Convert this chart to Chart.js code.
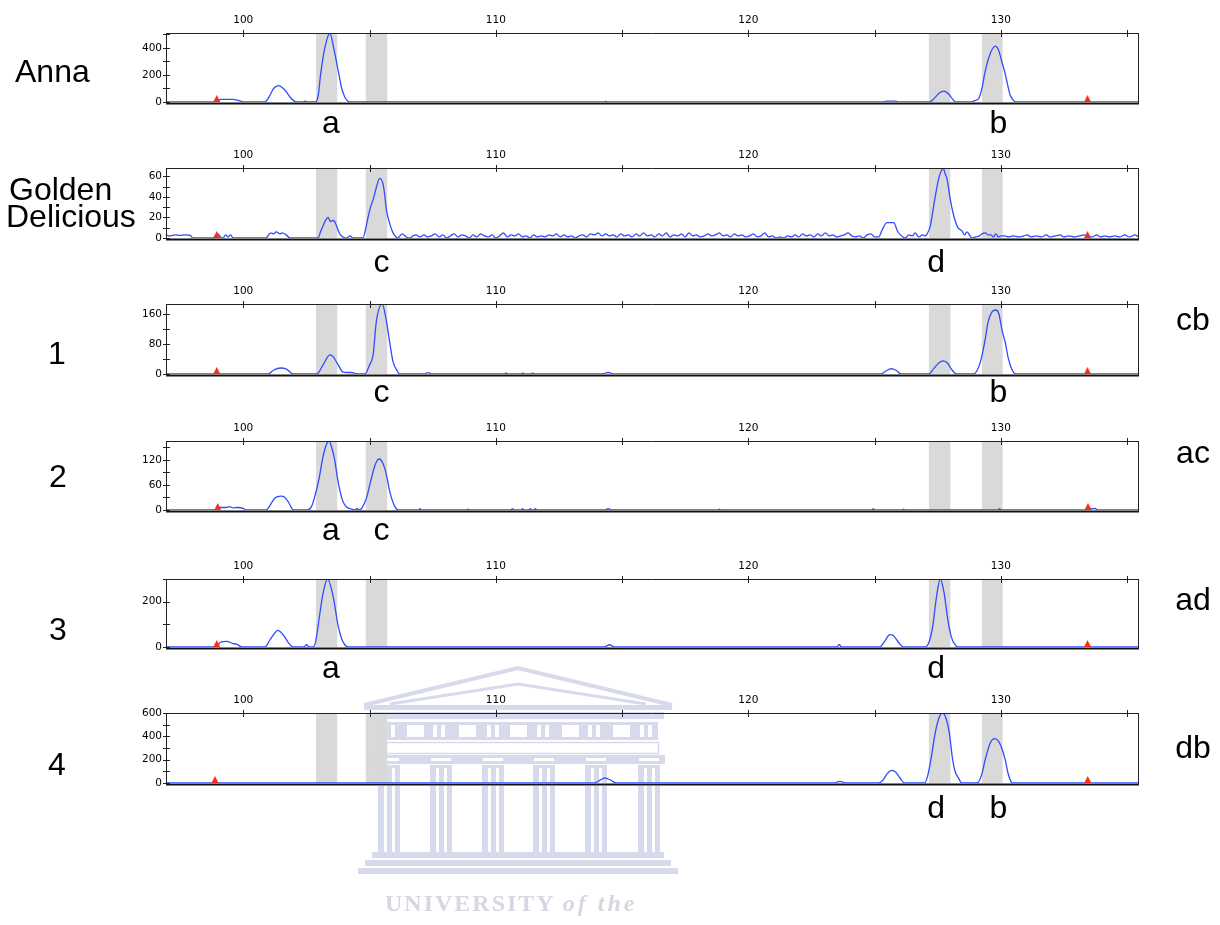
<!DOCTYPE html>
<html>
<head>
<meta charset="utf-8">
<title>Fragment analysis traces</title>
<script src="https://cdn.jsdelivr.net/npm/chart.js@4.4.1/dist/chart.umd.min.js"></script>
<style>
  html, body { margin: 0; padding: 0; background: #fff; }
  body { width: 1220px; height: 925px; position: relative; overflow: hidden; }
  canvas.panel { position: absolute; left: 0; }
  #crest { position: absolute; left: 0; top: 0; mix-blend-mode: darken; pointer-events: none; z-index: 5; }
  #motto { position: absolute; left: 385px; top: 889px; font-family: "Liberation Serif", serif; font-weight: bold;
           font-size: 24px; line-height: 28px; color: #d6d8e1; letter-spacing: 2px; white-space: nowrap;
           mix-blend-mode: darken; z-index: 6; }
  #motto i { letter-spacing: 3px; }
</style>
</head>
<body>
<canvas id="crest" width="1220" height="925"></canvas>
<div id="motto">UNIVERSITY <i>of the</i></div>
<script>
// ---- fragment size axis (bp) ----
const sizeMin = 96.94;
const sizeMax = 135.47;
const sizeTicks = [100, 105, 110, 115, 120, 125, 130, 135];
const sizeLabels = [100, 110, 120, 130];
// allele bins (bp ranges)
const binLow  = [102.88, 104.85, 127.15, 129.25];
const binHigh = [103.72, 105.70, 128.00, 130.07];

// ---- Anna ----
const annaBp = [
  96.94, 98.98,
  99.05, 99.1, 99.6, 99.8, 99.95, 100.05,
  100.8, 100.9, 101.06, 101.2, 101.41, 101.55, 101.71, 101.88, 102.04, 102.12,
  102.35, 102.45, 102.55,
  102.86, 102.97, 103.06, 103.23, 103.43, 103.58, 103.79, 103.9, 104.02, 104.12, 104.22,
  114.3, 114.36, 114.42,
  125.4, 125.45, 125.85, 125.9,
  127.17, 127.35, 127.55, 127.73, 127.9, 128.05, 128.2,
  128.85, 128.95, 129.12, 129.25, 129.36, 129.58, 129.78, 129.91, 130.05, 130.17, 130.27, 130.37, 130.54, 130.62,
  135.47];
const annaRfu = [
  0, 0,
  15, 20, 20, 12, 3, 0,
  0, 5, 50, 100, 121, 105, 74, 30, 5, 0,
  0, 6, 0,
  0, 50, 200, 400, 510, 400, 200, 100, 37, 10, 0,
  0, 5, 0,
  0, 6, 6, 0,
  0, 25, 65, 81, 65, 30, 0,
  0, 10, 25, 100, 210, 358, 413, 383, 290, 210, 125, 50, 5, 0,
  0];
const annaTicks = [0, 100, 200, 300, 400, 500];
const annaLabels = [0, 200, 400];

// ---- Golden Delicious ----
const goldenBp = [
  96.94, 97.1, 97.3, 97.5, 97.7, 97.9, 98.0, 98.8, 98.9, 99.0, 99.1, 99.2, 99.3, 99.4, 99.5, 99.6,
  100.9, 101.0, 101.1, 101.2, 101.3, 101.45, 101.55, 101.7, 101.85,
  102.9, 102.96, 103.06, 103.16, 103.28, 103.36, 103.45, 103.55, 103.62, 103.72, 103.82, 103.95, 104.1, 104.23, 104.35,
  104.74, 104.84, 104.94, 105.04, 105.14, 105.28, 105.4, 105.53, 105.6, 105.67, 105.8, 105.93, 106.02, 106.11,
  106.3, 106.45, 106.59, 106.72, 106.85, 107.0, 107.15, 107.3, 107.45, 107.6, 107.75, 107.9,
  108.05, 108.2, 108.35, 108.5, 108.65, 108.8, 108.95, 109.1, 109.25, 109.4, 109.55, 109.7, 109.85,
  110.0, 110.15, 110.3, 110.45, 110.6, 110.75, 110.9, 111.05, 111.2, 111.35, 111.5, 111.65, 111.8, 111.95,
  112.1, 112.25, 112.4, 112.55, 112.7, 112.85, 113.0, 113.15, 113.3, 113.45, 113.6, 113.75, 113.9,
  114.05, 114.2, 114.35, 114.5, 114.65, 114.8, 114.95, 115.1, 115.25, 115.4, 115.55, 115.7, 115.85,
  116.0, 116.15, 116.3, 116.45, 116.6, 116.75, 116.9, 117.05, 117.2, 117.35, 117.5, 117.65, 117.8, 117.95,
  118.1, 118.25, 118.4, 118.55, 118.7, 118.85, 119.0, 119.15, 119.3, 119.45, 119.6, 119.75, 119.9,
  120.05, 120.2, 120.35, 120.5, 120.65, 120.8, 120.95, 121.1, 121.25, 121.4, 121.55, 121.7, 121.85,
  122.0, 122.15, 122.3, 122.45, 122.6, 122.75, 122.9, 123.05, 123.2, 123.35, 123.5, 123.65, 123.8, 123.95,
  124.1, 124.25, 124.4, 124.55, 124.7, 124.85, 125.0,
  125.16, 125.3, 125.49, 125.6, 125.76, 125.9, 126.02, 126.22,
  126.35, 126.5, 126.6, 126.75, 126.9, 127.0, 127.08,
  127.21, 127.3, 127.4, 127.53, 127.62, 127.71, 127.8, 127.87, 128.0, 128.1, 128.2, 128.3, 128.46, 128.56, 128.66, 128.78, 128.85,
  129.0, 129.15, 129.25, 129.38, 129.5, 129.6, 129.7, 129.8, 129.9, 130.0, 130.15, 130.3, 130.5, 130.7, 130.9,
  131.05, 131.2, 131.4, 131.6, 131.8, 131.95, 132.15, 132.35, 132.5, 132.7, 132.9,
  133.1, 133.3, 133.43, 133.6, 133.8, 133.95, 134.1, 134.3, 134.5, 134.7, 134.9, 135.1, 135.3, 135.47];
const goldenRfu = [
  3, 2, 3, 2.5, 3, 2.5, 0, 0, 2, 4, 1, 0, 3, 1, 3, 0,
  0, 3, 5, 4, 6, 4, 5, 3, 0,
  0, 0, 6, 12, 18, 20, 16, 17, 16, 10, 4, 1, 0, 2, 0,
  0, 8, 20, 30, 37, 50, 58, 53, 42, 27, 14, 5, 2, 0,
  4, 1, 0, 2, 3, 1, 3, 1, 2, 4, 1, 3,
  0, 2, 4, 1, 3, 2, 0, 3, 1, 4, 2, 1, 3,
  0, 2, 5, 1, 3, 2, 4, 1, 2, 0, 3, 1, 2, 1,
  3, 2, 4, 1, 3, 1, 2, 0, 2, 3, 1, 4, 3,
  5, 2, 4, 2, 3, 1, 4, 2, 3, 1, 4, 2, 5,
  2, 3, 1, 4, 2, 5, 1, 3, 2, 4, 1, 5, 2, 3,
  1, 2, 4, 2, 3, 5, 2, 3, 1, 4, 2, 3, 1,
  2, 4, 1, 2, 5, 1, 2, 0, 1, 0, 2, 1, 3,
  1, 4, 2, 3, 1, 4, 2, 5, 2, 3, 1, 2, 3, 5,
  2, 1, 2, 0, 3, 4, 1,
  1, 8, 15, 15, 15, 7, 3, 0,
  3, 2, 5, 1, 3, 2, 4,
  12, 25, 40, 57, 64, 68, 62, 57, 37, 25, 16, 10, 7, 3, 6, 2, 0,
  1, 2, 4, 5, 3, 3, 1, 4, 1, 2, 2, 1, 2, 1, 2,
  3, 1, 2, 1, 3, 1, 2, 3, 1, 2, 1,
  2, 3, 2, 1, 3, 1, 2, 1, 2, 1, 3, 1, 3, 1];
const goldenTicks = [0, 10, 20, 30, 40, 50, 60];
const goldenLabels = [0, 20, 40, 60];

// ---- Sample 1 ----
const s1Bp = [
  96.94, 100.99,
  101.19, 101.48, 101.71, 101.98,
  102.9, 102.96, 103.16, 103.43, 103.56, 103.76, 103.95, 104.1, 104.28, 104.55,
  104.81, 105.0, 105.14, 105.27, 105.5, 105.67, 105.8, 105.93, 106.1, 106.19,
  107.2, 107.27, 107.38, 107.45,
  110.35, 110.41, 110.47, 111.02, 111.07, 111.12, 111.4, 111.46, 111.52,
  114.2, 114.45, 114.7,
  125.25, 125.45, 125.65, 125.85, 126.05,
  127.15, 127.35, 127.55, 127.72, 127.9, 128.05, 128.25,
  128.9, 129.05, 129.2, 129.36, 129.5, 129.65, 129.8, 129.92, 130.05, 130.17, 130.3, 130.45, 130.6,
  135.47];
const s1Rfu = [
  0, 0,
  10, 16, 13, 0,
  0, 2, 24, 51, 46, 24, 5, 4, 4, 0,
  0, 24, 50, 140, 186, 140, 83, 33, 8, 0,
  0, 3, 3, 0,
  0, 3, 0, 0, 3, 0, 0, 3, 0,
  0, 4, 0,
  0, 8, 14, 10, 0,
  0, 15, 30, 35, 28, 12, 0,
  0, 8, 35, 85, 140, 165, 170, 160, 115, 85, 40, 10, 0,
  0];
const s1Ticks = [0, 40, 80, 120, 160];
const s1Labels = [0, 80, 160];

// ---- Sample 2 ----
const s2Bp = [
  96.94, 98.95,
  99.02, 99.3, 99.45, 99.6, 99.75, 100.0, 100.1,
  100.9, 101.05, 101.2, 101.35, 101.5, 101.65, 101.8, 101.94, 102.0,
  102.55, 102.7, 102.83, 103.0, 103.16, 103.28, 103.4, 103.5, 103.62, 103.72, 103.82, 103.95, 104.09, 104.25, 104.4, 104.5, 104.61,
  104.7, 104.88, 105.05, 105.2, 105.32, 105.4, 105.5, 105.6, 105.7, 105.8, 105.95, 106.06, 106.15,
  106.95, 107.0, 107.05, 108.85, 108.9, 108.95,
  110.6, 110.66, 110.72, 111.0, 111.06, 111.12, 111.3, 111.36, 111.42, 111.52, 111.57, 111.62,
  114.3, 114.45, 114.6,
  118.8, 118.85, 118.9, 124.9, 124.95, 125.0, 126.1, 126.15, 126.2,
  129.9, 129.95, 130.0,
  133.35, 133.5, 133.6, 133.75, 133.8,
  135.47];
const s2Rfu = [
  0, 0,
  6, 6, 8, 5, 6, 4, 0,
  0, 10, 25, 32, 33, 30, 18, 2, 0,
  0, 8, 32, 75, 128, 155, 165, 150, 120, 80, 48, 20, 7, 3, 0, 3, 0,
  5, 29, 70, 104, 120, 122, 115, 100, 75, 44, 15, 3, 0,
  0, 3, 0, 0, 2, 0,
  0, 3, 0, 0, 3, 0, 0, 3, 0, 0, 3, 0,
  0, 3, 0,
  0, 2, 0, 0, 3, 0, 0, 2, 0,
  0, 3, 0,
  0, 4, 3, 4, 0,
  0];
const s2Ticks = [0, 30, 60, 90, 120, 150];
const s2Labels = [0, 60, 120];

// ---- Sample 3 ----
const s3Bp = [
  96.94, 98.95,
  99.08, 99.34, 99.6, 99.73, 99.87, 100.0,
  100.86, 101.06, 101.2, 101.36, 101.58, 101.78, 101.98,
  102.4, 102.51, 102.6,
  102.77, 102.86, 102.96, 103.16, 103.34, 103.56, 103.76, 103.9, 104.02, 104.15,
  114.3, 114.5, 114.7,
  123.5, 123.6, 123.7,
  125.2, 125.4, 125.6, 125.75, 125.95, 126.15,
  127.0, 127.15, 127.3, 127.45, 127.6, 127.75, 127.9, 128.05, 128.2, 128.3,
  135.47];
const s3Rfu = [
  0, 0,
  20, 25, 15, 13, 4, 0,
  0, 32, 55, 73, 54, 20, 0,
  0, 10, 0,
  0, 20, 91, 238, 300, 222, 91, 35, 10, 0,
  0, 10, 0,
  0, 10, 0,
  0, 25, 55, 50, 20, 0,
  0, 20, 90, 220, 300, 240, 120, 40, 8, 0,
  0];
const s3Ticks = [0, 100, 200, 300];
const s3Labels = [0, 200];

// ---- Sample 4 ----
const s4Bp = [
  96.94,
  113.9, 114.1, 114.3, 114.5, 114.76,
  123.45, 123.55, 123.7, 123.8,
  125.17, 125.35, 125.5, 125.69, 125.85, 126.0, 126.2,
  126.99, 127.1, 127.23, 127.4, 127.55, 127.7, 127.85, 127.96, 128.09, 128.2, 128.33, 128.45,
  129.0, 129.12, 129.25, 129.38, 129.58, 129.75, 129.91, 130.05, 130.17, 130.3, 130.43, 130.5,
  135.47];
const s4Rfu = [
  0,
  0, 20, 43, 30, 0,
  0, 12, 12, 0,
  0, 30, 80, 108, 90, 45, 0,
  0, 60, 200, 428, 560, 600, 540, 428, 200, 90, 40, 0,
  0, 10, 80, 200, 343, 380, 357, 290, 200, 71, 5, 0,
  0];
const s4Ticks = [0, 100, 200, 300, 400, 500, 600];
const s4Labels = [0, 200, 400, 600];

// size standard markers (bp)
const markersA = [98.95, 133.43];
const markersB = [98.99, 133.45];
const markersC = [98.88, 133.44];

// allele letter positions (bp)
const alleleA = 103.47, alleleB = 129.9, alleleC = 105.47, alleleD = 127.44;

const TRACE = '#2f4cff';
const LABEL_FONT = '32px "Liberation Sans", Arial, sans-serif';
const TICK_FONT = { family: '"DejaVu Sans", sans-serif', size: 10.5 };
const CANVAS_H = 150;
const AXIS_BAND = 33;

const panels = [
  { top: 33,  height: 69, yMax: 510, bp: annaBp,   rfu: annaRfu,   yTicks: annaTicks,   yLabels: annaLabels,   markers: markersA,
    names: [{ t: 'Anna', x: 15, y: 82, align: 'left' }], geno: null,
    alleles: [['a', alleleA], ['b', alleleB]], alleleY: 133 },
  { top: 168, height: 70, yMax: 68,  bp: goldenBp, rfu: goldenRfu, yTicks: goldenTicks, yLabels: goldenLabels, markers: markersA,
    names: [{ t: 'Golden', x: 9, y: 200, align: 'left' }, { t: 'Delicious', x: 6, y: 227, align: 'left' }], geno: null,
    alleles: [['c', alleleC], ['d', alleleD]], alleleY: 272 },
  { top: 304, height: 70, yMax: 186, bp: s1Bp, rfu: s1Rfu, yTicks: s1Ticks, yLabels: s1Labels, markers: markersA,
    names: [{ t: '1', x: 57, y: 364, align: 'center' }], geno: { t: 'cb', y: 330 },
    alleles: [['c', alleleC], ['b', alleleB]], alleleY: 402 },
  { top: 441, height: 69, yMax: 165, bp: s2Bp, rfu: s2Rfu, yTicks: s2Ticks, yLabels: s2Labels, markers: markersB,
    names: [{ t: '2', x: 58, y: 487, align: 'center' }], geno: { t: 'ac', y: 463 },
    alleles: [['a', alleleA], ['c', alleleC]], alleleY: 540 },
  { top: 579, height: 68, yMax: 300, bp: s3Bp, rfu: s3Rfu, yTicks: s3Ticks, yLabels: s3Labels, markers: markersA,
    names: [{ t: '3', x: 58, y: 640, align: 'center' }], geno: { t: 'ad', y: 610 },
    alleles: [['a', alleleA], ['d', alleleD]], alleleY: 678 },
  { top: 713, height: 70, yMax: 600, bp: s4Bp, rfu: s4Rfu, yTicks: s4Ticks, yLabels: s4Labels, markers: markersC,
    names: [{ t: '4', x: 57, y: 775, align: 'center' }], geno: { t: 'db', y: 758 },
    alleles: [['d', alleleD], ['b', alleleB]], alleleY: 818 }
];

function makeDecor(p, canvasTop) {
  return {
    id: 'panelDecor',
    beforeDatasetsDraw(chart) {
      const { ctx, chartArea: a, scales: { x } } = chart;
      ctx.save();
      ctx.fillStyle = '#d9d9d9';
      binLow.forEach((lo, i) => {
        const x0 = x.getPixelForValue(lo), x1 = x.getPixelForValue(binHigh[i]);
        ctx.fillRect(x0, a.top, x1 - x0, a.bottom - a.top);
      });
      // dark baseline beneath the trace
      ctx.strokeStyle = '#111';
      ctx.lineWidth = 2;
      ctx.beginPath();
      ctx.moveTo(a.left, a.bottom + 1.5);
      ctx.lineTo(a.right, a.bottom + 1.5);
      ctx.stroke();
      ctx.restore();
    },
    afterDatasetsDraw(chart) {
      const { ctx, chartArea: a, scales: { x, y } } = chart;
      ctx.save();
      // frame
      ctx.strokeStyle = '#222';
      ctx.lineWidth = 1;
      ctx.beginPath();
      ctx.moveTo(a.left, a.top + 0.5); ctx.lineTo(a.right, a.top + 0.5);
      ctx.moveTo(a.left + 0.5, a.top); ctx.lineTo(a.left + 0.5, a.bottom + 2);
      ctx.moveTo(a.right - 0.5, a.top); ctx.lineTo(a.right - 0.5, a.bottom + 2);
      // crossing tick marks
      sizeTicks.forEach(v => {
        const px = Math.round(x.getPixelForValue(v)) + 0.5;
        ctx.moveTo(px, a.top - 3); ctx.lineTo(px, a.top + 4);
      });
      p.yTicks.forEach(v => {
        const py = Math.round(y.getPixelForValue(v)) + 0.5;
        ctx.moveTo(a.left - 3, py); ctx.lineTo(a.left + 4, py);
      });
      ctx.stroke();
      // size standard markers
      ctx.fillStyle = '#ff2a1a';
      p.markers.forEach(m => {
        const px = x.getPixelForValue(m);
        ctx.beginPath();
        ctx.moveTo(px - 3.5, a.bottom);
        ctx.lineTo(px + 3.5, a.bottom);
        ctx.lineTo(px, a.bottom - 7);
        ctx.closePath();
        ctx.fill();
      });
      // sample names, genotypes and allele letters
      ctx.fillStyle = '#000';
      ctx.font = LABEL_FONT;
      ctx.textBaseline = 'alphabetic';
      p.names.forEach(n => {
        ctx.textAlign = n.align;
        ctx.fillText(n.t, n.x, n.y - canvasTop);
      });
      if (p.geno) {
        ctx.textAlign = 'center';
        ctx.fillText(p.geno.t, 1193, p.geno.y - canvasTop);
      }
      ctx.textAlign = 'center';
      p.alleles.forEach(([letter, bp]) => {
        ctx.fillText(letter, x.getPixelForValue(bp), p.alleleY - canvasTop);
      });
      ctx.restore();
    }
  };
}

panels.forEach(p => {
  const cv = document.createElement('canvas');
  cv.width = 1220;
  cv.height = CANVAS_H;
  cv.className = 'panel';
  const canvasTop = p.top - AXIS_BAND;
  cv.style.top = canvasTop + 'px';
  document.body.appendChild(cv);

  new Chart(cv, {
    type: 'line',
    data: {
      datasets: [{
        data: p.bp.map((b, i) => ({ x: b, y: p.rfu[i] })),
        borderColor: TRACE,
        borderWidth: 1.3,
        pointRadius: 0,
        fill: false,
        cubicInterpolationMode: 'monotone'
      }]
    },
    options: {
      responsive: false,
      animation: false,
      devicePixelRatio: 1,
      events: [],
      layout: { padding: { left: 0, top: 0, right: 81, bottom: CANVAS_H - AXIS_BAND - p.height } },
      plugins: { legend: { display: false }, tooltip: { enabled: false } },
      scales: {
        x: {
          type: 'linear', position: 'top', min: sizeMin, max: sizeMax,
          grid: { display: false, drawTicks: false }, border: { display: false },
          afterBuildTicks: s => { s.ticks = sizeTicks.map(v => ({ value: v })); },
          afterFit: s => { s.height = AXIS_BAND; },
          ticks: {
            autoSkip: false, maxRotation: 0, padding: 6, color: '#000', font: TICK_FONT,
            callback: v => sizeLabels.includes(v) ? String(v) : ''
          }
        },
        y: {
          type: 'linear', min: 0, max: p.yMax,
          grid: { display: false, drawTicks: false }, border: { display: false },
          afterBuildTicks: s => { s.ticks = p.yTicks.map(v => ({ value: v })); },
          afterFit: s => { s.width = 166; },
          ticks: {
            autoSkip: false, padding: 4, color: '#000', font: TICK_FONT,
            callback: v => p.yLabels.includes(v) ? String(v) : ''
          }
        }
      }
    },
    plugins: [makeDecor(p, canvasTop)]
  });
});

// faint university crest behind the lower panels
(function drawCrest() {
  const g = document.getElementById('crest').getContext('2d');
  const C = '#d7daec';
  g.strokeStyle = C;
  g.fillStyle = C;
  g.lineJoin = 'miter';
  // pediment
  g.lineWidth = 4;
  g.beginPath(); g.moveTo(364, 705); g.lineTo(518, 668); g.lineTo(672, 705); g.stroke();
  g.lineWidth = 3;
  g.beginPath(); g.moveTo(390, 704); g.lineTo(518, 684); g.lineTo(646, 704); g.stroke();
  // cornice
  g.fillRect(364, 705, 308, 5);
  g.fillRect(372, 712, 292, 7);
  // frieze with metopes and triglyphs
  g.fillRect(378, 722, 280, 18);
  g.fillStyle = '#fff';
  [407, 459, 510, 562, 613].forEach(mx => g.fillRect(mx, 725, 17, 12));
  [383, 433, 487, 537, 588, 640].forEach(tx => { g.fillRect(tx, 725, 4, 12); g.fillRect(tx + 8, 725, 4, 12); });
  g.fillStyle = C;
  // architrave
  g.lineWidth = 1.5;
  g.strokeRect(378.5, 742.5, 280, 11);
  // capitals band
  g.fillRect(373, 755, 292, 9);
  g.fillStyle = '#fff';
  [389, 441, 493, 544, 596, 649].forEach(cx => g.fillRect(cx - 10, 758, 20, 3));
  g.fillStyle = C;
  // fluted columns
  [389, 441, 493, 544, 596, 649].forEach(cx => {
    g.fillRect(cx - 11, 765, 22, 87);
    g.clearRect(cx - 5, 768, 3, 84);
    g.clearRect(cx + 3, 768, 3, 84);
  });
  // steps
  g.fillRect(372, 852, 292, 6);
  g.fillRect(365, 860, 306, 6);
  g.fillRect(358, 868, 320, 6);
})();
</script>
</body>
</html>
